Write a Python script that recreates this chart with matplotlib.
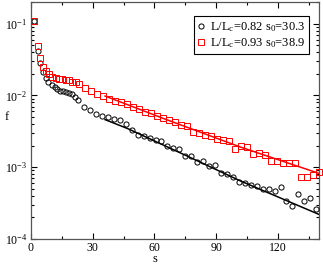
import numpy as np
import matplotlib
matplotlib.use("Agg")
import matplotlib.pyplot as plt
from matplotlib.ticker import MultipleLocator, LogLocator, LogFormatterMathtext, NullFormatter

plt.rcParams['font.family'] = ['Liberation Serif', 'DejaVu Serif']
plt.rcParams['mathtext.fontset'] = 'custom'
plt.rcParams['mathtext.rm'] = 'Liberation Serif'
plt.rcParams['mathtext.it'] = 'Liberation Serif:italic'

# L/Lc = 0.82 (black circles)
s_a = [1.6, 3.3, 4.5, 6.0, 7.2, 8.4, 10.1, 11.5, 12.8, 14.1, 15.4, 16.9, 18.3, 19.8, 21.4, 23.0,
       25.8, 28.7, 31.6, 34.5, 37.5, 40.4, 43.3, 46.2, 49.1, 52.0, 55.0, 57.9, 60.8, 63.4,
       66.3, 69.2, 72.1, 75.0, 78.0, 80.9, 83.8, 86.7, 89.6, 92.6, 95.5, 98.2, 101.2, 103.9,
       106.9, 109.8, 112.7, 115.6, 118.5, 121.4, 124.0, 127.0, 129.9, 132.8, 135.7, 138.6]
f_a = [0.110, 0.0412, 0.0281, 0.0211, 0.0174, 0.0153, 0.0139, 0.0130, 0.0122, 0.0117, 0.0115,
       0.0112, 0.0108, 0.0103, 0.0095, 0.0085,
       0.00688, 0.00619, 0.00548, 0.00519, 0.00495, 0.00475, 0.0045, 0.00396, 0.00332, 0.00283,
       0.0027, 0.00259, 0.00243, 0.00232, 0.002, 0.00188, 0.00178, 0.00145, 0.00144, 0.00118,
       0.00122, 0.00103, 0.00109, 0.000833, 0.000807, 0.000727, 0.000629, 0.000605, 0.000562,
       0.00055, 0.00049, 0.0005, 0.000469, 0.000528, 0.000334, 0.000284, 0.000426, 0.000334,
       0.000371, 0.000259]

# L/Lc = 0.93 (red squares)
s_b = [1.6, 3.3, 4.5, 5.7, 7.2, 8.8, 10.4, 12.0, 13.6, 15.2, 16.9, 18.5, 20.1, 21.7,
       23.3, 26.2, 29.1, 32.1, 35.0, 37.9, 40.8, 43.7, 46.7, 49.6, 52.5, 55.4, 58.3, 61.3,
       64.2, 67.1, 70.0, 72.9, 75.9, 78.8, 81.7, 84.6, 87.5, 90.5, 93.4, 96.3, 99.2, 102.1,
       105.1, 108.0, 110.9, 113.8, 116.7, 119.7, 122.6, 125.5, 128.4, 131.3, 134.3, 137.2, 140.1]
f_b = [0.110, 0.0484, 0.0334, 0.0247, 0.0218, 0.0196, 0.0180, 0.0174, 0.0168, 0.0167, 0.0165,
       0.0162, 0.0156, 0.0153,
       0.0145, 0.0128, 0.0115, 0.0106, 0.0097, 0.0089, 0.0083, 0.0080, 0.0077, 0.0070, 0.0065,
       0.0059, 0.0057, 0.0052, 0.0049, 0.0045, 0.0043, 0.0039, 0.0037, 0.0031, 0.0030, 0.0028,
       0.0027, 0.0025, 0.0024, 0.0023, 0.0018, 0.0020, 0.0019, 0.00155, 0.00158, 0.00147,
       0.00122, 0.00122, 0.00116, 0.00114, 0.00113, 0.00072, 0.00073, 0.00078, 0.00085]

# fitted curves
fit_s_a = [36, 47, 75, 102, 140]
fit_f_a = [0.0046, 0.00345, 0.00147, 0.00064, 0.00022]
fit_s_b = [36, 65, 102, 140]
fit_f_b = [0.0098, 0.0047, 0.0019, 0.00082]

labels = [r'L/L$_{\rm c}$=0.82 s$_{\rm 0}$=30.3', r'L/L$_{\rm c}$=0.93 s$_{\rm 0}$=38.9']

W, H = 323, 264
fig = plt.figure(figsize=(W / 100, H / 100), dpi=100)
ax = fig.add_axes([31 / W, (H - 239) / H, 288 / W, 237 / H])

ax.plot(fit_s_a, fit_f_a, color='black', lw=1.1, zorder=2)
ax.plot(fit_s_b, fit_f_b, color='red', lw=1.1, zorder=2)
ax.plot(s_a, f_a, ls='none', marker='o', ms=3.7, mfc='none', mec='black', mew=0.7,
        label=labels[0], clip_on=False, zorder=3)
ax.plot(s_b, f_b, ls='none', marker='s', ms=3.7, mfc='none', mec='red', mew=0.7,
        label=labels[1], clip_on=False, zorder=3)

ax.set_yscale('log')
ax.set_xlim(0, 140)
ax.set_ylim(1e-4, 0.2)

ax.xaxis.set_major_locator(MultipleLocator(30))
ax.xaxis.set_minor_locator(MultipleLocator(15))
ax.yaxis.set_major_locator(LogLocator(base=10, numticks=10))
ax.yaxis.set_minor_locator(LogLocator(base=10, subs=np.arange(2, 10), numticks=10))
ax.yaxis.set_major_formatter(LogFormatterMathtext())
ax.yaxis.set_minor_formatter(NullFormatter())

ax.tick_params(which='both', direction='in', top=True, right=True, labelsize=8.5, width=0.8)
ax.tick_params(which='major', length=4, pad=2.5)
ax.tick_params(which='minor', length=2)
for sp in ax.spines.values():
    sp.set_linewidth(0.9)
    sp.set_color('#555555')

ax.set_xlabel('s', fontsize=9, labelpad=0)
ax.set_ylabel('f', fontsize=9, rotation=0, labelpad=0)
ax.xaxis.set_label_coords(0.43, -0.06)
ax.yaxis.set_label_coords(-0.085, 0.49)

leg = ax.legend(loc='upper right', bbox_to_anchor=(0.965, 0.94), fontsize=9,
                frameon=True, fancybox=False, edgecolor='black', framealpha=1,
                handlelength=0.6, handletextpad=0.4, borderpad=0.3, labelspacing=0.2,
                borderaxespad=0)
leg.get_frame().set_linewidth(0.8)

fig.savefig('out.png', dpi=100)
